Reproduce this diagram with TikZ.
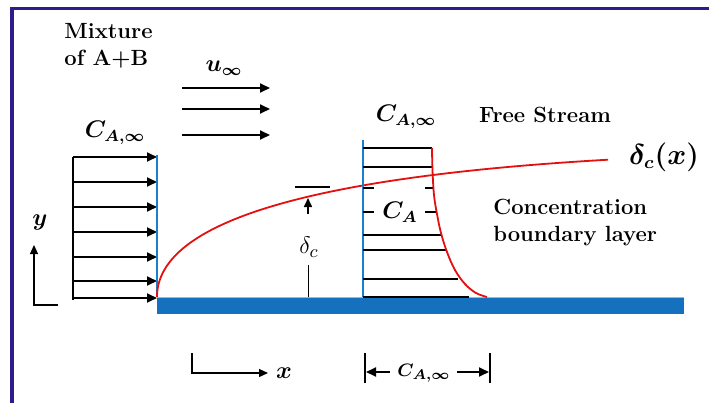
\documentclass[tikz,border=0pt]{standalone}
\usepackage{amsmath}
\usepackage{tikz}
\usetikzlibrary{arrows.meta}
\definecolor{frame}{HTML}{2E1C8C}
\definecolor{plate}{HTML}{1570BE}
\definecolor{wall}{HTML}{1A7FCC}
\definecolor{layer}{HTML}{E41010}

\begin{document}
\begin{tikzpicture}[
  x=0.5pt, y=-0.5pt,
  flow/.style={-{Triangle[length=5pt,width=4.5pt]}, line width=0.9pt},
  axis/.style={-{Triangle[length=4.5pt,width=4pt]}, line width=0.6pt},
  bar/.style={line width=1pt},
  wallline/.style={draw=wall, line width=1.1pt},
  layerline/.style={draw=layer, line width=0.9pt},
  txt/.style={font=\bfseries\fontsize{11}{13.5}\selectfont, align=left, inner sep=0pt},
  sym/.style={font=\boldmath\fontsize{12}{14}\selectfont, inner sep=0pt},
  plain/.style={font=\fontsize{13}{15}\selectfont, inner sep=0pt}
]
\useasboundingbox (0,0) rectangle (709,403);
\fill[white] (0,0) rectangle (709,403);
\draw[frame, line width=1.5pt] (12,403) -- (12,8) -- (709,8);

% plate
\fill[plate] (157,297) rectangle (684,314);
\draw[gray!60, line width=0.4pt] (157,297) -- (684,297);

% labels
\node[txt, anchor=west] (mix) at (64,46) {Mixture\\of A+B};
\node[sym] (uinf) at (224,68) {$u_\infty$};
\node[sym] (cinfL) at (115,133) {$C_{A,\infty}$};
\node[sym] (cinfM) at (406,117) {$C_{A,\infty}$};
\node[txt] (free) at (545,115) {Free Stream};
\node[sym, font=\boldmath\fontsize{13.5}{15}\selectfont] (dcx) at (664,157) {$\delta_c(x)$};
\node[txt, anchor=west] (cbl) at (493,223) {Concentration\\boundary layer};
\node[sym] (ylab) at (40,222) {$y$};
\node[sym] (xlab) at (284,373) {$x$};
\node[plain] (dc) at (309,247) {$\delta_c$};
\node[sym] (ca) at (400,212) {$C_A$};
\node[sym, font=\boldmath\fontsize{9.5}{11}\selectfont] (cinfB) at (424,373) {$C_{A,\infty}$};

% free stream arrows
\foreach \y in {88,109,135}
  \draw[flow] (182,\y) -- (270,\y);

% inlet profile
\draw[line width=0.7pt] (73,157) -- (73,300);
\foreach \y in {157,182,207,232,257,281,298}
  \draw[flow] (73,\y) -- (157,\y);
\draw[wallline] (157,155) -- (157,297);

% axes
\draw[axis] (58,305) -- (34,305) -- (34,245);
\draw[axis] (192,353) -- (192,373) -- (268,373);

% concentration boundary layer edge
\draw[layerline] plot[domain=0:21.24, samples=120, smooth] ({157+\x*\x},{297-10.5*\x+0.19*\x*\x});

% delta_c marker
\draw[bar] (295,187) -- (330,187);
\draw[axis, line width=0.8pt] (308,214) -- (308,198);
\draw[line width=0.5pt] (308,265) -- (308,297);

% concentration profile
\draw[wallline] (363,140) -- (363,297);
\foreach \y/\e in {148/432,167/432,235/442,250/447,279/458,297/469}
  \draw[bar] (363,\y) -- (\e,\y);
\draw[bar] (363,188) -- (374,188) (425,188) -- (433,188);
\draw[bar] (363,212) -- (374,212) (425,212) -- (437,212);
\draw[layerline] plot[smooth, tension=0.6] coordinates {(432,148) (432.5,170) (434,195) (437,214) (441,233) (447,252) (455,270) (465,284) (476,293) (487,297)};

% bottom dimension
\draw[line width=0.7pt] (365,353) -- (365,383);
\draw[line width=0.7pt] (490,353) -- (490,383);
\draw[flow] (390,372) -- (366,372);
\draw[flow] (457,372) -- (489,372);
\end{tikzpicture}
\end{document}
